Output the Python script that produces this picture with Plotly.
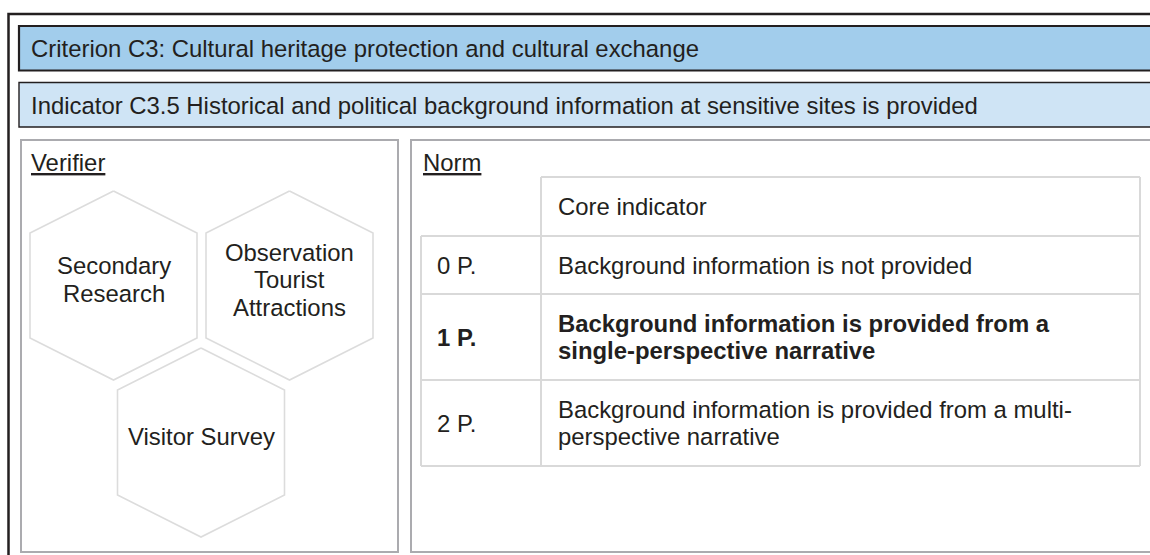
import plotly.graph_objects as go

# ---------------- content ----------------
criterion_title = "Criterion C3: Cultural heritage protection and cultural exchange"
indicator_title = ("Indicator C3.5 Historical and political background information "
                   "at sensitive sites is provided")
verifier_heading = "Verifier"
norm_heading = "Norm"
verifier_methods = ["Secondary\nResearch", "Observation\nTourist\nAttractions", "Visitor Survey"]
table_header = "Core indicator"
norm_points = ["0 P.", "1 P.", "2 P."]
norm_descriptions = [
    "Background information is not provided",
    "Background information is provided from a\nsingle-perspective narrative",
    "Background information is provided from a multi-\nperspective narrative",
]
highlighted_row = 1

# ---------------- styling / layout ----------------
W, H = 1150, 555
FONT = "Arial, 'Liberation Sans', sans-serif"
FS = 23.9
TXT = "#231F20"
LINE_H = 27.5
CRIT_FILL = "#A2CDEC"
IND_FILL = "#CFE4F5"
BOX_LINE = "#ABABAF"
HEX_LINE = "#DCDCDC"
TAB_LINE = "#D9D9D9"

hex_centers = [(113.5, 285.5), (289.5, 285.5), (201, 442.5)]
hex_hw, hex_hh, hex_sh = 83.5, 94.5, 52.5

tab_x0, tab_xm, tab_x1 = 421, 541, 1140
row_edges = [177, 236, 294, 380, 466]

fig = go.Figure()
shapes = []
ann = []


def rect(x0, y0, x1, y1, color, width, fill=None):
    shapes.append(dict(type="rect", xref="x", yref="y", x0=x0, y0=y0, x1=x1, y1=y1,
                       line=dict(color=color, width=width),
                       fillcolor=fill if fill else "rgba(0,0,0,0)", layer="below"))


def line(x0, y0, x1, y1, color, width):
    shapes.append(dict(type="line", xref="x", yref="y", x0=x0, y0=y0, x1=x1, y1=y1,
                       line=dict(color=color, width=width), layer="below"))


def text(x, y, s, anchor="left", bold=False):
    if bold:
        s = "<b>" + s + "</b>"
    ann.append(dict(x=x, y=y, xref="x", yref="y", text=s, showarrow=False,
                    xanchor=anchor, yanchor="middle",
                    font=dict(family=FONT, size=FS, color=TXT)))


def multiline(x, yc, s, anchor="left", bold=False):
    lines = s.split("\n")
    n = len(lines)
    for i, l in enumerate(lines):
        text(x, yc + (i - (n - 1) / 2) * LINE_H, l, anchor, bold)


# outer frame and title bars
rect(8.5, 14, 1200, 700, TXT, 2.5)
rect(19, 26, 1200, 70.5, TXT, 2.2, CRIT_FILL)
rect(19, 82.5, 1200, 127, TXT, 1.4, IND_FILL)
text(29, 48.5, criterion_title)
text(29, 105, indicator_title)

# verifier and norm panels
rect(21, 140, 398, 552, BOX_LINE, 2)
rect(411, 140, 1250, 552, BOX_LINE, 2)
text(29, 162, "<u>" + verifier_heading + "</u>")
text(421, 162, "<u>" + norm_heading + "</u>")

# hexagons
for (cx, cy), label in zip(hex_centers, verifier_methods):
    xs = [cx, cx + hex_hw, cx + hex_hw, cx, cx - hex_hw, cx - hex_hw, cx]
    ys = [cy - hex_hh, cy - hex_sh, cy + hex_sh, cy + hex_hh, cy + hex_sh, cy - hex_sh, cy - hex_hh]
    fig.add_trace(go.Scatter(x=xs, y=ys, mode="lines", fill="toself", fillcolor="white",
                             line=dict(color=HEX_LINE, width=1.6), hoverinfo="skip",
                             showlegend=False))
    multiline(cx, cy - 6, label, anchor="center")

# norm table
line(tab_xm, row_edges[0], tab_x1, row_edges[0], TAB_LINE, 2)
for y in row_edges[1:]:
    line(tab_x0, y, tab_x1, y, TAB_LINE, 2)
line(tab_x0, row_edges[1], tab_x0, row_edges[-1], TAB_LINE, 2)
line(tab_xm, row_edges[0], tab_xm, row_edges[-1], TAB_LINE, 2)
line(tab_x1, row_edges[0], tab_x1, row_edges[-1], TAB_LINE, 2)
text(556, (row_edges[0] + row_edges[1]) / 2, table_header)
for i, (pt, desc) in enumerate(zip(norm_points, norm_descriptions)):
    yc = (row_edges[i + 1] + row_edges[i + 2]) / 2
    b = (i == highlighted_row)
    text(435, yc, pt, bold=b)
    multiline(556, yc, desc, bold=b)

fig.update_layout(
    width=W, height=H, margin=dict(l=0, r=0, t=0, b=0),
    paper_bgcolor="white", plot_bgcolor="white",
    xaxis=dict(range=[0, W], visible=False, fixedrange=True),
    yaxis=dict(range=[H, 0], visible=False, fixedrange=True),
    shapes=shapes, annotations=ann, showlegend=False,
)
fig.write_html("out.html", config=dict(displayModeBar=False),
               post_script="document.body.style.margin='0';document.body.style.overflow='hidden';")
